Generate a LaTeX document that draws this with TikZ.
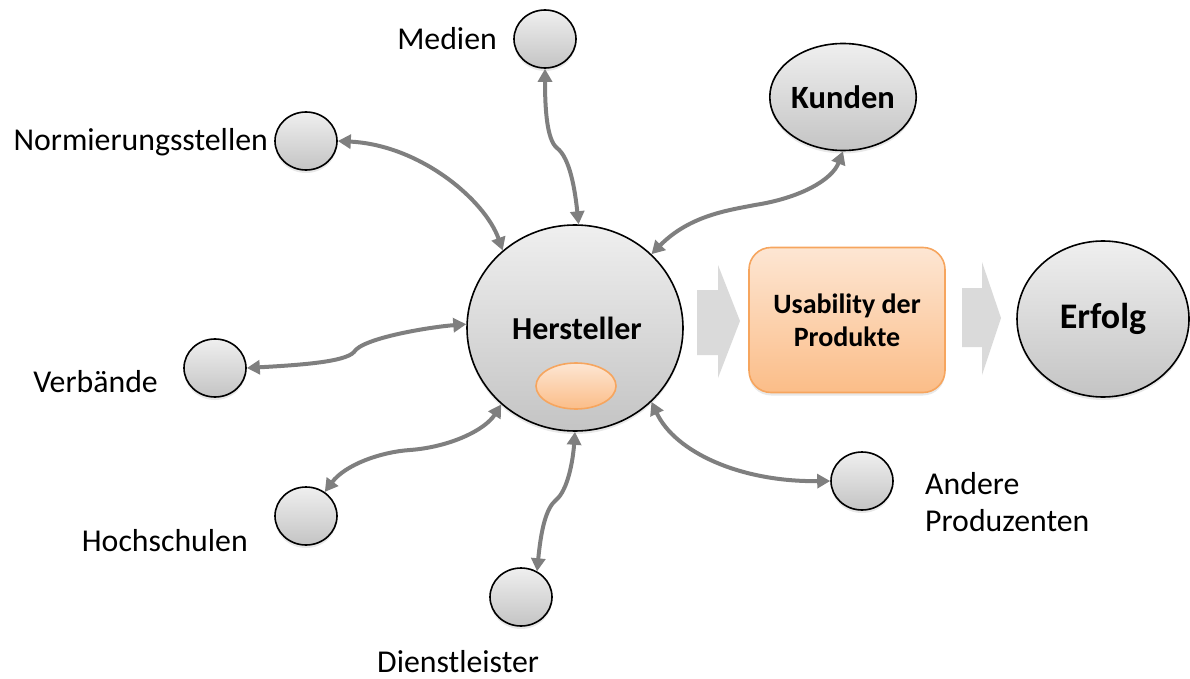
\documentclass[tikz,border=0pt]{standalone}
\usepackage{fontspec}
\setmainfont{Carlito}
\usetikzlibrary{shapes.geometric,arrows.meta,shadows}
\definecolor{conn}{HTML}{7F7F7F}
\definecolor{chev}{HTML}{DADADA}
\definecolor{orbd}{HTML}{F6A55E}
\definecolor{ortop}{HTML}{FDE6D3}
\definecolor{orbot}{HTML}{FBBD88}
\definecolor{gtop}{HTML}{EFEFEF}
\definecolor{gbot}{HTML}{C4C4C4}
\begin{document}
\begin{tikzpicture}[x=1pt,y=-1pt,
  ball/.style={ellipse, draw=black, line width=1.6pt, top color=gtop, bottom color=gbot,
    inner sep=0pt, drop shadow={opacity=0.18, shadow xshift=0pt, shadow yshift=-3pt}},
  small/.style={ball, minimum width=62pt, minimum height=58pt},
  lab/.style={inner sep=0pt, font=\fontsize{31.8}{37}\selectfont},
  conn/.style={draw=conn, line width=4pt, {Triangle[length=13pt,width=14pt]}-{Triangle[length=13pt,width=14pt]}},
  chevron/.style={fill=chev},
  box/.style={draw=orbd, line width=1.6pt, rounded corners=22pt, top color=ortop, bottom color=orbot,
    minimum width=196pt, minimum height=145pt, align=center,
    drop shadow={opacity=0.18, shadow xshift=0pt, shadow yshift=-3pt},
    font=\bfseries\fontsize{28}{33}\selectfont}
]
\useasboundingbox (0,0) rectangle (1190,679);

% main nodes
\node[ball, minimum width=216pt, minimum height=206pt] (h) at (575,328) {};
\node[font=\bfseries\fontsize{32}{36}\selectfont, inner sep=0pt] (ht) at (577,328) {Hersteller};
\node[ellipse, draw=orbd, line width=1.6pt, top color=ortop, bottom color=orbot, minimum width=80pt, minimum height=46pt, inner sep=0pt] (ho) at (576,386) {};

\node[ball, minimum width=117pt, minimum height=107pt, font=\bfseries\fontsize{32.5}{36}\selectfont] (k) at (843,97) {Kunden};
\node[ball, minimum width=172pt, minimum height=156pt, font=\bfseries\fontsize{36}{40}\selectfont] (e) at (1103,319) {Erfolg};
\node[box] (u) at (847,320) {Usability der\\Produkte};

% chevrons
\fill[chevron] (697,290) -- (718,290) -- (718,265) -- (740,321) -- (718,378) -- (718,355) -- (697,355) -- cycle;
\fill[chevron] (962,288) -- (982,288) -- (982,262) -- (1001,318) -- (982,375) -- (982,347) -- (962,347) -- cycle;

% small nodes
\node[small] (m) at (545,39) {};
\node[small] (n) at (306,141) {};
\node[small] (v) at (215,368) {};
\node[small] (hs) at (306,516) {};
\node[small] (d) at (521,597) {};
\node[small] (a) at (862,481) {};

% labels
\node[lab, anchor=base east] (tm) at (497,50) {Medien};
\node[lab, anchor=base east] (tn) at (268,151) {Normierungsstellen};
\node[lab, anchor=base east] (tv) at (158,392) {Verbände};
\node[lab, anchor=base east] (ths) at (248,551) {Hochschulen};
\node[lab, anchor=base west] (td) at (377,672) {Dienstleister};
\node[lab, anchor=base west] (ta) at (925,494) {Andere};
\node[lab, anchor=base west] (tp) at (925,531) {Produzenten};

% connectors
\draw[conn] (m.south) .. controls (545,110) and (547,140) .. (557,148)
            .. controls (570,158) and (575,190) .. (h.88);
\draw[conn] (n.east) .. controls (420,145) and (485,200) .. (h.133);
\draw[conn] (v.east) .. controls (300,365) and (345,362) .. (354,352)
            .. controls (362,338) and (430,327) .. (h.178);
\draw[conn] (hs.52) .. controls (345,465) and (380,452) .. (410,450)
            .. controls (450,447) and (485,430) .. (h.226);
\draw[conn] (d.58) .. controls (541,530) and (546,508) .. (556,500)
            .. controls (568,490) and (573,460) .. (h.270);
\draw[conn] (h.316) .. controls (675,452) and (740,482) .. (a.west);
\draw[conn] (h.44) .. controls (690,215) and (730,210) .. (755,205)
            .. controls (800,198) and (832,180) .. (k.south);
\end{tikzpicture}
\end{document}
